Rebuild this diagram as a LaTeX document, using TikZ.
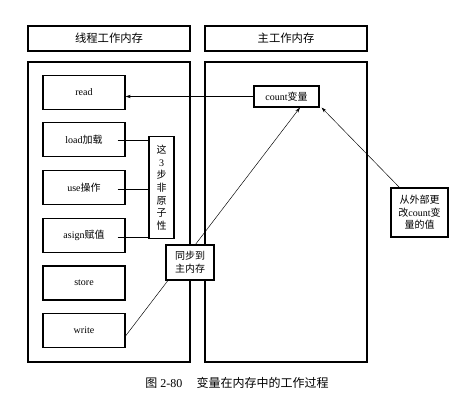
\documentclass[tikz,border=0pt]{standalone}
\usepackage{fontspec}
\setmainfont{Liberation Serif}
\newfontfamily\cjk{Noto Sans CJK SC}
\usetikzlibrary{calc,arrows.meta}
\begin{document}
\begin{tikzpicture}[x=0.75pt,y=-0.75pt,
  frame/.style={draw,line width=0.8pt,inner sep=0pt},
  hdr/.style={frame,minimum width=121.5pt,minimum height=18.75pt,font=\fontsize{8.5}{10}\selectfont},
  mem/.style={frame,minimum width=121.5pt,minimum height=225pt},
  opbox/.style={frame,minimum width=61.5pt,minimum height=25.5pt,font=\fontsize{7.5}{9}\selectfont},
  note/.style={frame,fill=white,align=center,font=\fontsize{7.5}{9.5}\selectfont},
  conn/.style={line width=0.35pt},
  arr/.style={conn,-{Stealth[length=4pt,width=2.5pt]}}]
\useasboundingbox (0,0) rectangle (471,400);
\node[hdr] (h1) at (109,38.5) {{\cjk 线程工作内存}};
\node[hdr] (h2) at (286,38.5) {{\cjk 主工作内存}};
\node[mem] (m1) at (109,212) {};
\node[mem] (m2) at (286,212) {};
\node[opbox] (read) at (84,92.5) {read};
\node[opbox] (load) at (84,139.5) {load{\cjk 加载}};
\node[opbox] (use) at (84,187.5) {use{\cjk 操作}};
\node[opbox] (asign) at (84,235.5) {asign{\cjk 赋值}};
\node[opbox] (store) at (84,283) {store};
\node[opbox] (write) at (84,330.5) {write};
\node[note,minimum width=18.75pt,minimum height=77pt,inner sep=1pt] (three) at (161.5,187.5)
  {{\cjk 这}\\3\\{\cjk 步}\\{\cjk 非}\\{\cjk 原}\\{\cjk 子}\\{\cjk 性}};
\node[note,minimum width=48.75pt,minimum height=15.75pt,inner sep=1pt] (count) at (286.5,96.5) {count{\cjk 变量}};
\node[note,minimum width=42.75pt,minimum height=36.75pt,inner sep=1pt] (ext) at (419.5,212.5)
  {{\cjk 从外部更}\\{\cjk 改}count{\cjk 变}\\{\cjk 量的值}};
\draw[conn] ($(load.east)+(-8,0.5)$) -- (three.west |- {$(load.east)+(0,0.5)$});
\draw[conn] ($(use.east)+(-8,1.5)$) -- (three.west |- {$(use.east)+(0,1.5)$});
\draw[conn] ($(asign.east)+(-8,1.5)$) -- (three.west |- {$(asign.east)+(0,1.5)$});
\draw[arr] (count.west) -- (count.west -| read.east);
\draw[arr] ($(write.east)+(0,5.5)$) -- ($(count.south)+(13.5,0)$);
\node[note,minimum width=36pt,minimum height=26.25pt,inner sep=1pt] (sync) at (190,262.5)
  {{\cjk 同步到}\\{\cjk 主内存}};
\draw[arr] ($(ext.north west)+(9,0)$) -- ($(count.south east)+(2,0)$);
\node[font=\fontsize{9}{11}\selectfont] (cap) at (237,383) {{\cjk 图} 2-80\hspace{1.2em}{\cjk 变量在内存中的工作过程}};
\end{tikzpicture}
\end{document}
